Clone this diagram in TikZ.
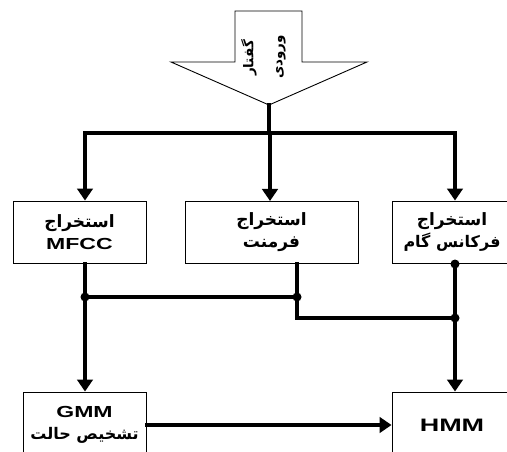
\documentclass[tikz,border=0pt]{standalone}
\usepackage{graphicx}
\usepackage{fontspec}
\setmainfont{Liberation Sans}
\newfontfamily\arabicfont[Script=Arabic]{DejaVu Sans}
\TeXXeTstate=1
\usetikzlibrary{arrows.meta}
\newcommand{\fa}[1]{{\arabicfont\fontsize{17}{22.5}\selectfont\beginR #1\endR}}
\newcommand{\fasm}[1]{{\arabicfont\beginR #1\endR}}
\newcommand{\widetxt}[1]{\scalebox{1.44}[1]{#1}}
\begin{document}
\begin{tikzpicture}[x=1pt,y=-1pt,
  box/.style={draw, line width=0.9pt, inner sep=0pt, align=center,
    minimum height=62pt, font=\bfseries\fontsize{16}{22.5}\selectfont},
  wire/.style={line width=3.3pt, line cap=rect},
  arr/.style={wire, -{Triangle[length=12pt,width=15.5pt]}},
  dot/.style={circle, fill, inner sep=0pt, minimum size=9pt},
  vtext/.style={rotate=90, font=\bfseries\fontsize{13.5}{15}\selectfont}]
\useasboundingbox (0,0) rectangle (507,452);
% input arrow shape
\draw[line width=0.9pt] (235,11) -- (302,11) -- (302,62) -- (367,62) -- (269,105)
  -- (171,62) -- (235,62) -- cycle;
\node[vtext] (t1) at (249,58) {\fasm{گفتار}};
\node[vtext] (t2) at (281,57) {\fasm{ورودی}};
\coordinate (apex) at (269,105);
% boxes
\node[box, minimum width=133pt] (b1) at (79.5,232) {\fa{استخراج}\\\widetxt{MFCC}};
\node[box, minimum width=173pt] (b2) at (271.5,232) {\fa{استخراج}\\\fa{فرمنت}};
\node[box, minimum width=120pt] (b3) at (452,232) {\fa{استخراج}\\\fasm{فرکانس گام}};
\node[box, minimum width=123pt, minimum height=66pt] (gmm) at (84.5,425) {\widetxt{GMM}\\\fasm{تشخیص حالت}};
\node[box, minimum width=120pt, minimum height=66pt, font=\bfseries\fontsize{18}{22}\selectfont] (hmm) at (452,425) {\scalebox{1.5}[1]{HMM}};
% junctions
\coordinate (s) at (269,133);
\coordinate (j1) at (85,133);
\coordinate (j3) at (455,133);
\coordinate (d1) at (85,297);
\coordinate (d2) at (297,297);
\coordinate (k2) at (297,318);
\coordinate (d3) at (455,264);
\coordinate (d4) at (455,318);
% wires
\draw[wire] (apex) -- (s);
\draw[wire] (j1) -- (j3);
\draw[arr] (j1) -- (j1 |- b1.north);
\draw[arr] (s) -- (s -| 270,0) -- (270,201);
\draw[arr] (j3) -- (j3 |- b3.north);
\draw[arr] (b1.south -| d1) -- (d1 |- gmm.north);
\draw[wire] (d1) -- (d2);
\draw[wire] (b2.south -| d2) -- (k2) -- (d4);
\draw[arr] (d3) -- (d3 |- hmm.north);
\draw[arr] (gmm.east) -- (hmm.west);
\node[dot] (p1) at (d1) {};
\node[dot] (p2) at (d2) {};
\node[dot] (p3) at (d3) {};
\node[dot] (p4) at (d4) {};
\end{tikzpicture}
\end{document}
